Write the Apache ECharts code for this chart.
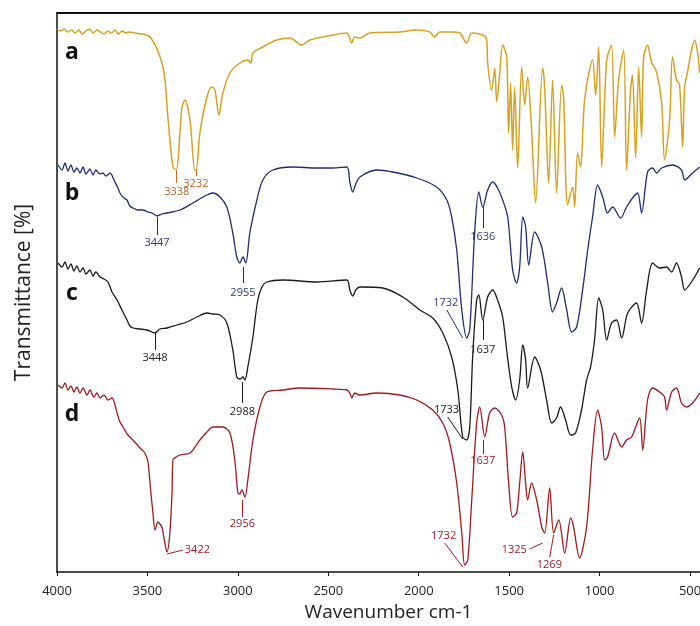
<!DOCTYPE html>
<html>
<head>
<meta charset="utf-8">
<script src="https://cdn.jsdelivr.net/npm/echarts@6/dist/echarts.min.js"></script>
<style>html,body{margin:0;padding:0;background:#fff}#c{width:700px;height:626px}</style>
</head>
<body>
<div id="c"></div>
<script>
// x tick labels (wavenumber, cm-1)
const xTicks = [4000, 3500, 3000, 2500, 2000, 1500, 1000, 500];
const traceNames = ['a', 'b', 'c', 'd'];

// [wavenumber, transmittance (arbitrary, offset-stacked)]
const seriesA = [[4000,543],[3980,541],[3960,543],[3940,540],[3920,542],[3900,539],[3880,542],[3860,538],[3840,541],[3820,543],[3800,539],[3780,542],[3760,540],[3740,538],[3720,541],[3700,539],[3680,542],[3660,538],[3640,541],[3620,539],[3600,540],[3569,539],[3486,535],[3414,505],[3387,455],[3359,405],[3340,402],[3320,440],[3309,465],[3293,472],[3265,452],[3238,402],[3230,402],[3210,439],[3171,475],[3144,485],[3127,482],[3105,457],[3083,479],[3044,499],[2989,509],[2945,512],[2928,509],[2917,519],[2862,525],[2785,532],[2713,534],[2646,527],[2602,532],[2475,537],[2398,539],[2370,529],[2354,535],[2326,534],[2271,539],[2105,540],[2011,542],[1939,540],[1912,535],[1884,540],[1812,540],[1773,539],[1735,529],[1707,539],[1646,537],[1624,532],[1619,509],[1597,482],[1580,504],[1569,470],[1552,499],[1536,527],[1514,515],[1503,439],[1492,489],[1481,422],[1470,485],[1453,404],[1431,505],[1414,467],[1398,495],[1376,442],[1354,369],[1315,504],[1304,485],[1282,389],[1260,492],[1238,379],[1210,487],[1199,475],[1177,367],[1149,385],[1138,365],[1122,419],[1105,405],[1083,472],[1039,512],[1022,477],[1005,525],[989,405],[961,512],[934,527],[917,435],[895,492],[867,522],[851,402],[829,482],[818,497],[801,414],[784,505],[768,435],[757,514],[735,527],[713,510],[685,500],[657,469],[641,412],[613,452],[597,515],[575,492],[558,487],[541,425],[530,485],[514,500],[492,522],[475,532],[458,519],[447,499]];

const seriesB = [[3994,407],[3972,402],[3956,409],[3939,401],[3923,407],[3906,400],[3890,404],[3873,399],[3856,405],[3840,398],[3818,403],[3801,397],[3785,402],[3762,398],[3746,399],[3729,396],[3707,399],[3680,390],[3663,384],[3652,379],[3630,374],[3613,372],[3597,366],[3580,364],[3552,362],[3525,362],[3497,360],[3475,359],[3447,356],[3420,358],[3392,359],[3320,362],[3249,369],[3171,377],[3138,379],[3099,375],[3061,365],[3028,339],[3006,315],[2989,309],[2972,315],[2956,309],[2934,339],[2895,372],[2862,392],[2807,402],[2696,405],[2563,404],[2475,404],[2398,405],[2381,390],[2365,380],[2348,388],[2326,395],[2232,402],[2144,400],[2011,394],[1901,385],[1845,372],[1818,355],[1790,322],[1762,262],[1735,234],[1718,242],[1691,339],[1668,380],[1646,365],[1619,382],[1591,390],[1564,384],[1536,372],[1508,355],[1481,302],[1459,289],[1442,305],[1425,355],[1409,345],[1392,307],[1359,340],[1320,325],[1287,289],[1260,260],[1238,269],[1210,284],[1182,262],[1155,240],[1127,245],[1094,282],[1066,322],[1039,355],[1011,387],[983,375],[956,359],[928,365],[884,354],[851,365],[818,374],[790,379],[768,359],[735,400],[707,404],[685,399],[657,404],[597,407],[547,402],[530,392],[486,399],[447,405]];

const seriesC = [[3994,309],[3972,305],[3956,310],[3939,303],[3923,308],[3906,301],[3890,306],[3873,300],[3856,304],[3840,298],[3818,302],[3801,296],[3785,300],[3762,295],[3740,293],[3718,290],[3696,280],[3668,272],[3641,262],[3613,252],[3597,246],[3580,244],[3541,243],[3503,242],[3475,240],[3458,239],[3431,243],[3392,244],[3337,247],[3282,250],[3227,255],[3171,259],[3138,258],[3099,257],[3061,249],[3028,222],[3006,195],[2989,193],[2972,195],[2961,192],[2945,205],[2917,235],[2890,272],[2867,285],[2840,290],[2751,292],[2563,290],[2398,292],[2381,282],[2365,276],[2348,282],[2326,285],[2199,284],[2088,275],[1994,262],[1923,254],[1867,239],[1818,215],[1784,182],[1757,135],[1735,132],[1718,145],[1702,215],[1680,272],[1668,277],[1646,252],[1619,275],[1591,282],[1564,272],[1536,255],[1514,222],[1486,185],[1464,172],[1442,192],[1425,227],[1409,212],[1398,184],[1359,215],[1326,202],[1293,172],[1265,149],[1238,154],[1216,165],[1188,152],[1160,137],[1133,139],[1100,162],[1072,192],[1050,205],[1028,232],[1005,274],[983,262],[961,232],[934,249],[906,252],[878,234],[845,259],[796,269],[768,249],[740,282],[707,309],[668,304],[630,305],[602,300],[575,309],[547,295],[530,282],[492,290],[447,304]];

const seriesD = [[3994,187],[3972,184],[3956,189],[3939,182],[3923,186],[3906,180],[3890,185],[3873,179],[3856,184],[3834,177],[3818,182],[3796,175],[3779,179],[3762,174],[3740,177],[3718,172],[3696,174],[3668,159],[3652,150],[3635,145],[3608,137],[3580,132],[3541,124],[3514,119],[3497,110],[3486,89],[3469,58],[3458,42],[3442,50],[3431,48],[3420,45],[3403,28],[3392,20],[3376,39],[3364,80],[3359,112],[3342,115],[3320,117],[3265,119],[3210,132],[3171,140],[3138,145],[3083,145],[3044,139],[3017,112],[3000,79],[2989,78],[2978,82],[2961,75],[2945,92],[2917,132],[2878,165],[2840,180],[2751,182],[2657,184],[2475,183],[2398,182],[2381,179],[2370,174],[2354,179],[2326,177],[2232,179],[2105,177],[2011,172],[1923,162],[1867,149],[1829,129],[1790,89],[1762,39],[1746,7],[1729,12],[1707,72],[1680,149],[1663,165],[1635,135],[1608,159],[1580,164],[1542,157],[1525,145],[1503,89],[1481,55],[1459,59],[1442,89],[1425,120],[1409,89],[1398,72],[1376,89],[1348,72],[1320,45],[1304,39],[1276,84],[1254,39],[1226,52],[1193,19],[1160,54],[1144,45],[1111,14],[1072,45],[1039,122],[1011,162],[989,145],[972,112],[956,115],[917,139],[878,125],[851,132],[823,135],[779,154],[762,122],[735,172],[707,184],[668,180],[641,175],[630,162],[602,180],[575,184],[547,169],[519,165],[486,169],[447,179]];

// peak annotations: [text, wn1, v1, wn2, v2, labelPosition, labelDistance]
const peaksA = [['3338',3338,402,3338,389,'end',3],['3232',3232,402,3232,396,'end',2]];
const peaksB = [['3447',3447,355,3447,337,'end',2],['2955',2972,305,2972,289,'end',4],['1636',1646,365,1646,344,'end',3],['1732',1845,262,1757,234,'start',2]];
const peaksC = [['3448',3458,239,3458,222,'end',2],['2988',2975,190,2975,169,'end',3],['1637',1646,252,1646,232,'end',4],['1733',1840,155,1757,133,'start',2]];
const peaksD = [['3422',3392,18,3304,22,'end',2],['2956',2975,72,2975,55,'end',1],['1637',1646,132,1646,118,'end',1],['1732',1856,29,1757,5,'start',2],['1325',1387,23,1315,29,'start',3],['1269',1276,15,1254,37,'start',2]];

const lineColors = ['#D9A21E', '#1E2C72', '#1a1a1a', '#A3191C'];
const labelColors = ['#B8642A', '#2A3A85', '#222222', '#A0222A'];

function peakLines(peaks, color, lcolor) {
  return {
    silent: true,
    symbol: ['none', 'none'],
    animation: false,
    lineStyle: { color: color, width: 1, type: 'solid' },
    label: { show: true, color: lcolor, fontSize: 11, fontFamily: 'Open Sans' },
    emphasis: { disabled: true },
    data: peaks.map(p => {
      const lab = { show: true, position: p[5], distance: p[6], formatter: p[0], color: lcolor, fontSize: 11, fontFamily: 'Open Sans' };
      return [
        { name: p[0], coord: [p[1], p[2]], label: lab },
        { name: p[0], coord: [p[3], p[4]], label: lab }
      ];
    })
  };
}

const datasets = [seriesA, seriesB, seriesC, seriesD];
const peakSets = [peaksA, peaksB, peaksC, peaksD];

const chart = echarts.init(document.getElementById('c'), null, { renderer: 'canvas', width: 700, height: 626 });
const option = {
  animation: false,
  backgroundColor: '#fff',
  grid: { left: 57, right: 0, top: 13, bottom: 54, containLabel: false, outerBoundsMode: 'none' },
  xAxis: [{
    type: 'value', inverse: true, min: 445, max: 4000,
    name: 'Wavenumber cm-1', nameLocation: 'middle', nameGap: 30,
    nameTextStyle: { fontSize: 19, color: '#222', fontFamily: 'Open Sans', padding: [0, 0, 0, 20] },
    axisLine: { show: true, onZero: false, lineStyle: { color: '#111', width: 1.5 } },
    axisTick: { show: true, length: 4, customValues: xTicks, lineStyle: { color: '#111' } },
    axisLabel: { customValues: xTicks, fontSize: 13, color: '#222', fontFamily: 'Open Sans', margin: 13, formatter: v => String(v) },
    splitLine: { show: false }
  }, {
    type: 'value', inverse: true, min: 445, max: 4000, position: 'top',
    axisLine: { show: true, onZero: false, lineStyle: { color: '#111', width: 2 } },
    axisTick: { show: false }, axisLabel: { show: false }, splitLine: { show: false }
  }],
  yAxis: {
    type: 'value', min: 0, max: 559,
    name: 'Transmittance [%]', nameLocation: 'middle', nameGap: 22,
    nameTextStyle: { fontSize: 21, color: '#222', fontFamily: 'Open Sans' },
    axisLine: { show: true, onZero: false, lineStyle: { color: '#111', width: 1.5 } },
    axisTick: { show: false }, axisLabel: { show: false }, splitLine: { show: false }
  },
  series: datasets.map((d, i) => ({
    name: traceNames[i],
    type: 'line',
    data: d,
    showSymbol: false,
    smooth: 0.3,
    lineStyle: { color: lineColors[i], width: i === 0 ? 1.5 : 1.3 },
    itemStyle: { color: lineColors[i] },
    emphasis: { disabled: true },
    markLine: peakLines(peakSets[i], i === 0 ? '#D2691E' : lineColors[i], labelColors[i])
  })),
  graphic: traceNames.map((t, i) => ({
    type: 'text',
    x: 72, y: [52, 193, 293, 414][i],
    style: { text: t, fontSize: 23, fontWeight: 'bold', fill: '#111', fontFamily: 'Open Sans', textAlign: 'center', textVerticalAlign: 'middle' }
  }))
};
chart.setOption(option);
</script>
</body>
</html>
